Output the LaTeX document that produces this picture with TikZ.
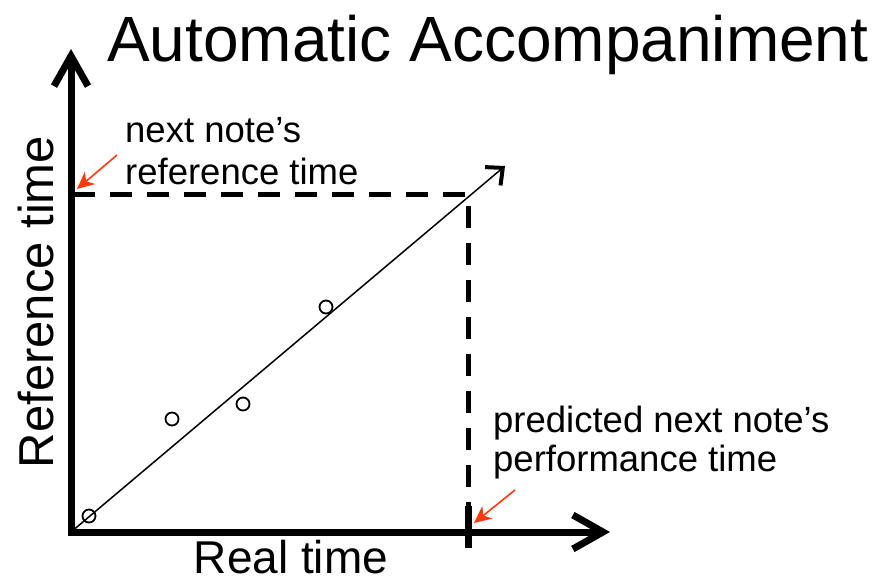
\documentclass[tikz,border=0pt]{standalone}
\usepackage{fontspec}
\setmainfont{Liberation Sans}
\usetikzlibrary{arrows.meta}
\definecolor{inkblack}{RGB}{0,0,0}
\definecolor{pointerred}{RGB}{252,58,18}
\tikzset{
  axis/.style={draw=inkblack,line width=7pt,line join=miter,
    {Straight Barb[length=30pt,width=34pt,line width=7pt]}-{Straight Barb[length=30pt,width=34pt,line width=7pt]}},
  fitline/.style={draw=inkblack,line width=1.5pt,
    -{Straight Barb[length=13pt,width=24pt,line width=4pt]}},
  guide/.style={draw=inkblack,line width=5pt,dash pattern=on 22pt off 15pt},
  tickmark/.style={draw=inkblack,line width=7pt},
  sample/.style={circle,draw=inkblack,line width=1.8pt,minimum size=13pt,inner sep=0pt},
  pointer/.style={draw=pointerred,line width=1.6pt,-{Stealth[length=17pt,width=16pt,inset=5pt]}},
  titletext/.style={font=\fontsize{64}{70}\selectfont,inner sep=0pt},
  axislabel/.style={font=\fontsize{48}{52}\selectfont,inner sep=0pt},
  notetext/.style={font=\fontsize{36.5}{41}\selectfont,align=left,inner sep=0pt}
}

\begin{document}
\begin{tikzpicture}[x=1pt,y=-1pt]
  \useasboundingbox (0,0) rectangle (873,583);
  % axes
  \coordinate (ytip) at (71,49);
  \coordinate (origin) at (71,532);
  \coordinate (xtip) at (610,532);
  \draw[axis] (ytip) -- (origin) -- (xtip);
  % fitted line and observed notes
  \coordinate (fittip) at (505,166);
  \draw[fitline] (origin) -- (fittip);
  \node[sample] (p1) at (89,516) {};
  \node[sample] (p2) at (172,419) {};
  \node[sample] (p3) at (243,404) {};
  \node[sample] (p4) at (326,307) {};
  % projection of the prediction
  \coordinate (refmark) at (73,194);
  \coordinate (predicted) at (468,194);
  \coordinate (perfmark) at (468,548);
  \draw[guide] (refmark) -- (predicted) -- (perfmark);
  \coordinate (ticktop) at (468,506);
  \draw[tickmark] (ticktop) -- (perfmark);
  % texts
  \node[titletext,anchor=base west] (title) at (107,62) {Automatic Accompaniment};
  \node[axislabel,font=\fontsize{49}{52}\selectfont,rotate=90,anchor=base] (ylabel) at (53,302) {Reference time};
  \node[axislabel,font=\fontsize{46}{50}\selectfont,anchor=base] (xlabel) at (291,573) {Real time};
  \node[notetext,anchor=base west] (refnote) at (125,143) {next note’s};
  \node[notetext,anchor=base west] (refnote2) at (125,184) {reference time};
  \node[notetext,anchor=base west] (perfnote) at (493,432) {predicted next note’s};
  \node[notetext,anchor=base west] (perfnote2) at (493,471) {performance time};
  % pointers
  \coordinate (reftail) at (117,155);
  \coordinate (refhead) at (77,189);
  \draw[pointer] (reftail) -- (refhead);
  \coordinate (perftail) at (515,490);
  \coordinate (perfhead) at (474,523);
  \draw[pointer] (perftail) -- (perfhead);
\end{tikzpicture}
\end{document}
